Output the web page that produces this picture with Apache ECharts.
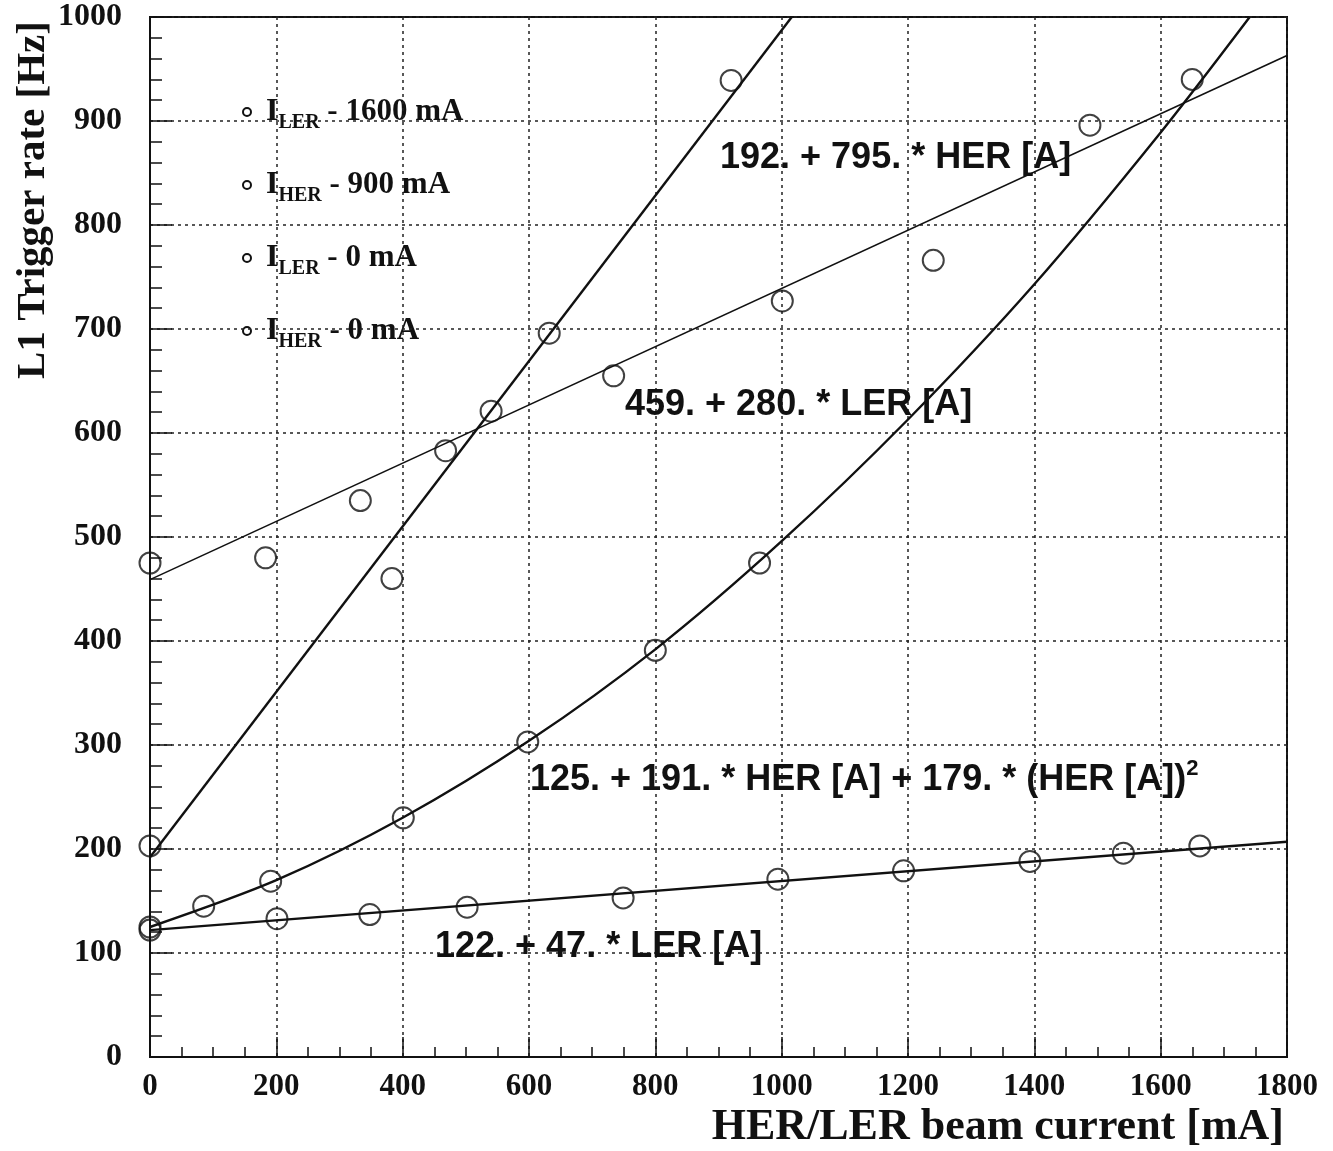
<!DOCTYPE html>
<html>
<head>
<meta charset="utf-8">
<title>L1 trigger rate vs beam current</title>
<script src="https://cdn.jsdelivr.net/npm/echarts@6/dist/echarts.min.js"></script>
<style>
  html, body { margin: 0; padding: 0; background: #fff; }
  #main { width: 1333px; height: 1151px; }
</style>
</head>
<body>
<div id="main"></div>
<script>
// Measured points [beam current mA, rate Hz]
const herAtLer1600 = [[0, 203], [383, 460], [540, 621], [632, 696], [920, 939]];
const lerAtHer900 = [[0, 475], [183, 480], [333, 535], [468, 583], [734, 655], [1001, 727], [1240, 766], [1488, 896]];
const herAtLer0 = [[0, 125], [85, 145], [191, 169], [401, 230], [598, 303], [800, 391], [965, 475], [1650, 940]];
const lerAtHer0 = [[0, 122], [201, 133], [348, 137], [502, 144], [749, 153], [994, 171], [1193, 179], [1393, 188], [1541, 196], [1662, 203]];

// Fit curves
const herFit = [[0, 192], [1016, 1000]];
const lerFit = [[0, 459], [1800, 963]];
const quadFit = [[0, 125], [200, 170], [400, 230], [600, 304], [800, 392], [1000, 496], [1200, 613], [1400, 743], [1600, 889], [1741, 1000]];
const lerZeroFit = [[0, 122], [1800, 207]];

// Legend rows and fit labels
const legendRows = [
    { sub: 'LER', rest: ' - 1600 mA' },
    { sub: 'HER', rest: ' - 900 mA' },
    { sub: 'LER', rest: ' - 0 mA' },
    { sub: 'HER', rest: ' - 0 mA' }
];
const fitLabels = [
    '{m|192. + 795. * HER [A]}',
    '{m|459. + 280. * LER [A]}',
    '{m|125. + 191. * HER [A] + 179. * (HER [A])}{sup|2}',
    '{m|122. + 47. * LER [A]}'
];

const SERIF = '"Liberation Serif", "DejaVu Serif", serif';
const SANS = '"Liberation Sans", Arial, sans-serif';

const chart = echarts.init(document.getElementById('main'));

function pointSeries(name, data) {
    return {
        name: name,
        type: 'scatter',
        data: data,
        symbol: 'circle',
        symbolSize: 21,
        itemStyle: { color: 'transparent', borderColor: '#111', borderWidth: 2 },
        z: 3
    };
}
function fitSeries(data, width, smooth) {
    return {
        type: 'line',
        data: data,
        smooth: smooth ? 0.3 : false,
        showSymbol: false,
        lineStyle: { color: '#111', width: width },
        z: 2
    };
}

// Legend drawn as graphic
const legendGraphics = [];
legendRows.forEach((r, i) => {
    const y = 112 + i * 73;
    legendGraphics.push({
        type: 'circle',
        shape: { cx: 247, cy: y, r: 4 },
        style: { fill: '#fff', stroke: '#111', lineWidth: 2 }
    });
    legendGraphics.push({
        type: 'text',
        x: 266, y: y,
        style: {
            text: '{i|I}{s|' + r.sub + '}{t|' + r.rest + '}',
            verticalAlign: 'middle',
            rich: {
                i: { fontFamily: SERIF, fontWeight: 'bold', fontSize: 32, lineHeight: 42, verticalAlign: 'middle', fill: '#111' },
                s: { fontFamily: SERIF, fontWeight: 'bold', fontSize: 20, lineHeight: 20, verticalAlign: 'bottom', fill: '#111' },
                t: { fontFamily: SERIF, fontWeight: 'bold', fontSize: 31, lineHeight: 42, verticalAlign: 'middle', fill: '#111' }
            }
        }
    });
});

const labelPos = [[720, 158], [625, 405], [530, 780], [435, 947]];
const labelGraphics = fitLabels.map((t, i) => ({
    type: 'text',
    x: labelPos[i][0], y: labelPos[i][1],
    style: {
        text: t,
        verticalAlign: 'middle',
        rich: {
            m: { fontFamily: SANS, fontWeight: 'bold', fontSize: 36, lineHeight: 44, verticalAlign: 'middle', fill: '#111' },
            sup: { fontFamily: SANS, fontWeight: 'bold', fontSize: 22, lineHeight: 22, verticalAlign: 'top', fill: '#111' }
        }
    },
    z: 10
}));

chart.setOption({
    backgroundColor: '#fff',
    animation: false,
    grid: {
        left: 150, top: 17, width: 1137, height: 1040,
        show: true, borderColor: '#111', borderWidth: 2, backgroundColor: 'transparent'
    },
    xAxis: {
        type: 'value', min: 0, max: 1800, interval: 200,
        axisLine: { show: true, lineStyle: { color: '#111', width: 2 } },
        axisTick: { show: true, inside: true, length: 20, lineStyle: { color: '#111', width: 1.5 } },
        minorTick: { show: true, splitNumber: 4, length: 10, lineStyle: { color: '#111', width: 1.5 } },
        splitLine: { show: true, lineStyle: { color: '#222', width: 1.5, type: [3, 4] } },
        axisLabel: {
            margin: 14, fontFamily: SERIF, fontWeight: 'bold', fontSize: 31, color: '#111',
            formatter: v => String(v)
        }
    },
    yAxis: {
        type: 'value', min: 0, max: 1000, interval: 100,
        axisLine: { show: true, lineStyle: { color: '#111', width: 2 } },
        axisTick: { show: true, inside: true, length: 22, lineStyle: { color: '#111', width: 1.5 } },
        minorTick: { show: true, splitNumber: 5, length: 12, lineStyle: { color: '#111', width: 1.5 } },
        splitLine: { show: true, lineStyle: { color: '#222', width: 1.5, type: [3, 4] } },
        axisLabel: {
            margin: 28, fontFamily: SERIF, fontWeight: 'bold', fontSize: 32, color: '#111',
            formatter: v => String(v)
        }
    },
    series: [
        pointSeries('I_LER - 1600 mA', herAtLer1600),
        pointSeries('I_HER - 900 mA', lerAtHer900),
        pointSeries('I_LER - 0 mA', herAtLer0),
        pointSeries('I_HER - 0 mA', lerAtHer0),
        fitSeries(herFit, 2.4, false),
        fitSeries(lerFit, 1.6, false),
        fitSeries(quadFit, 2.4, true),
        fitSeries(lerZeroFit, 2.4, false)
    ],
    graphic: legendGraphics.concat(labelGraphics).concat([
        {
            type: 'text',
            x: 1284, y: 1128,
            style: {
                text: 'HER/LER beam current [mA]',
                font: 'bold 44px ' + SERIF,
                fill: '#111',
                align: 'right',
                verticalAlign: 'middle'
            }
        },
        {
            type: 'text',
            x: 33, y: 200,
            rotation: Math.PI / 2,
            style: {
                text: 'L1 Trigger rate [Hz]',
                font: 'bold 41px ' + SERIF,
                fill: '#111',
                align: 'center',
                verticalAlign: 'middle'
            }
        }
    ])
});

window.addEventListener('resize', function () {
    chart.resize();
});
</script>
</body>
</html>
